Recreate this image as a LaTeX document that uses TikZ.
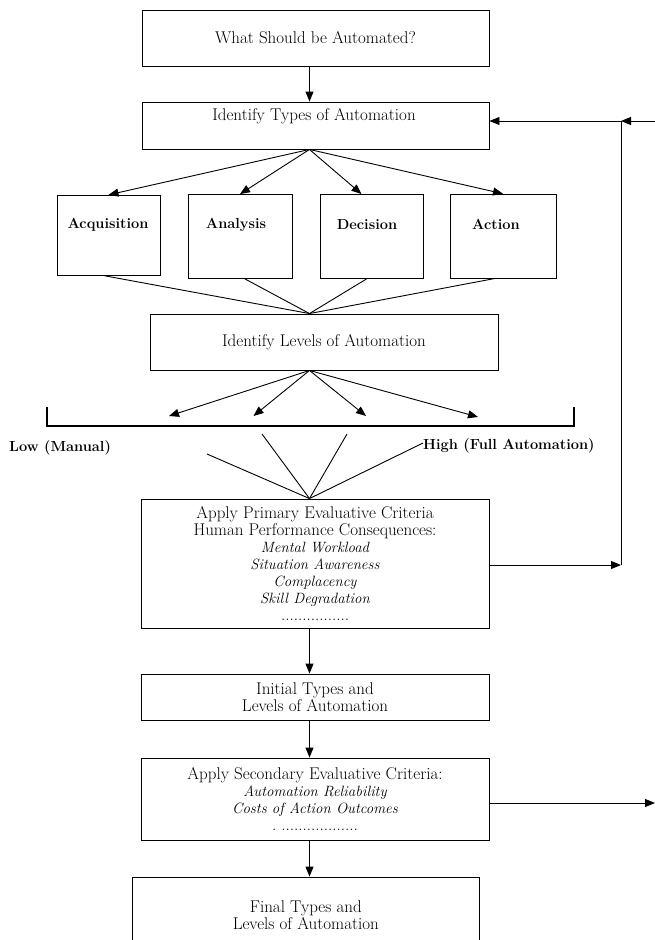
\documentclass[tikz,border=0pt]{standalone}
\usetikzlibrary{arrows.meta,calc}
\newcommand\fsz{\fontsize{17}{17}\selectfont}
\newcommand\itf{\fontsize{14.9}{17}\selectfont\itshape}
\newcommand\bfz{\fontsize{14.6}{17}\selectfont\bfseries}
\begin{document}
\begin{tikzpicture}[x=1pt,y=-1pt,
  box/.style={draw, line width=0.9pt, inner sep=0pt, align=center, font=\fsz},
  txt/.style={inner sep=0pt, align=center, font=\fsz},
  btxt/.style={inner sep=0pt, align=center, font=\bfz},
  ln/.style={line width=0.9pt},
  arr/.style={line width=0.9pt, -{Triangle[length=10pt,width=8pt]}},
  brk/.style={line width=2pt}]
\useasboundingbox (0,0) rectangle (655,940);
\clip (0,0) rectangle (655,940);
\coordinate (colx) at (309.5,0);

% boxes
\node[box, minimum width=347pt, minimum height=56pt] (what) at (315.5,38) {What Should be Automated?};
\node[box, minimum width=347pt, minimum height=47pt] (types) at (315.5,125.5) {};
\node[txt] (typesT) at (314,116) {Identify Types of Automation};

\node[box, minimum width=103pt, minimum height=80pt] (acq) at (108.5,235.3) {};
\node[box, minimum width=104pt, minimum height=84pt] (ana) at (240,236.5) {};
\node[box, minimum width=103pt, minimum height=84pt] (dec) at (371.5,236.5) {};
\node[box, minimum width=106pt, minimum height=84pt] (act) at (503,236.2) {};
\node[btxt] (acqT) at (108,225) {Acquisition};
\node[btxt] (anaT) at (236,225) {Analysis};
\node[btxt] (decT) at (367,225) {Decision};
\node[btxt] (actT) at (496,224) {Action};

\node[box, minimum width=348pt, minimum height=56pt] (levels) at (324,342) {Identify Levels of Automation};

\node[btxt, anchor=west] (lowT) at (9,448) {Low (Manual)};
\node[btxt, anchor=west] (highT) at (423,446) {High (Full Automation)};

\node[box, minimum width=348pt, minimum height=129pt] (prim) at (315,563.5)
 {Apply Primary Evaluative Criteria\\ Human Performance Consequences:\\ {\itf Mental Workload}\\ {\itf Situation Awareness}\\ {\itf Complacency}\\ {\itf Skill Degradation}\\ ................};

\node[box, minimum width=348pt, minimum height=46pt] (init) at (315,697)
 {Initial Types and\\ Levels of Automation};

\node[box, minimum width=348pt, minimum height=82pt] (sec) at (315,799)
 {Apply Secondary Evaluative Criteria:\\ {\itf Automation Reliability}\\ {\itf Costs of Action Outcomes}\\ .\ ..................};

\node[box, minimum width=347.5pt, minimum height=76pt] (fin) at (305.8,915)
 {Final Types and\\ Levels of Automation};

% vertical flow
\draw[arr] (what.south -| colx) -- (types.north -| colx);
\coordinate (typesB) at (types.south -| colx);
\draw[arr] (typesB) -- (acq.north);
\draw[arr] (typesB) -- (ana.north);
\draw[arr] (typesB) -- ([xshift=-10pt]dec.north);
\draw[arr] (typesB) -- (act.north);

\coordinate (levT) at (levels.north -| colx);
\draw[ln] ([xshift=-4pt]acq.south) -- (levT);
\draw[ln] ([xshift=5pt]ana.south) -- (levT);
\draw[ln] ([xshift=-5pt]dec.south) -- (levT);
\draw[ln] ([xshift=-9pt]act.south) -- (levT);

% levels to scale
\coordinate (levB) at (levels.south -| colx);
\coordinate (t1) at (169,416);
\coordinate (t2) at (253.5,416);
\coordinate (t3) at (366,416);
\coordinate (t4) at (478,417);
\draw[arr] (levB) -- (t1);
\draw[arr] (levB) -- (t2);
\draw[arr] (levB) -- (t3);
\draw[arr] (levB) -- (t4);

% bracket
\coordinate (bl) at (47,407);
\coordinate (br) at (573.5,407);
\draw[brk] (bl) -- (47,425.5) -- (573.5,425.5) -- (br);

% converging lines to primary
\coordinate (c1) at (207,454);
\coordinate (c2) at (262,434);
\coordinate (c3) at (347,434);
\coordinate (c4) at (423,443);
\coordinate (primT) at (prim.north -| colx);
\draw[ln] (c1) -- (primT);
\draw[ln] (c2) -- (primT);
\draw[ln] (c3) -- (primT);
\draw[ln] (c4) -- (primT);

\draw[arr] (prim.south -| colx) -- (init.north -| colx);
\draw[arr] (init.south -| colx) -- (sec.north -| colx);
\draw[arr] (sec.south -| colx) -- (fin.north -| colx);

% feedback
\coordinate (fbR) at (621,565);
\coordinate (fbT) at (621,121);
\coordinate (edgeT) at (656,121);
\coordinate (edgeS) at (655,803);
\draw[arr] (prim.east |- fbR) -- (fbR);
\draw[ln] (fbR) -- (fbT);
\draw[arr] (fbT) -- (types.east |- fbT);
\draw[arr] (edgeT) -- (fbT);
\draw[arr] (sec.east |- edgeS) -- (edgeS);
\end{tikzpicture}
\end{document}
